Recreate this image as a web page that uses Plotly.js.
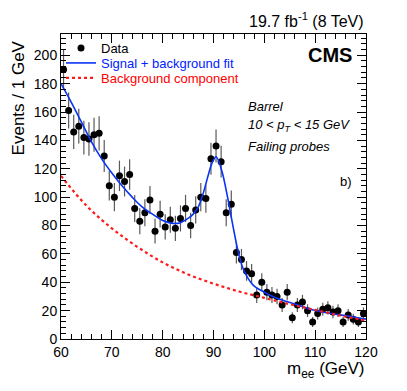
<!DOCTYPE html>
<html>
<head>
<meta charset="utf-8">
<script src="https://cdn.plot.ly/plotly-3.0.1.min.js"></script>
<style>html,body{margin:0;padding:0;background:#fff;}#plot{width:407px;height:391px;}</style>
</head>
<body>
<div id="plot"></div>
<script>
// Bin lower edges (1 GeV bins) and observed counts
const binLow = [60,61,62,63,64,65,66,67,68,69,70,71,72,73,74,75,76,77,78,79,
                80,81,82,83,84,85,86,87,88,89,90,91,92,93,94,95,96,97,98,99,
                100,101,102,103,104,105,106,107,108,109,110,111,112,113,114,115,116,117,118,119];
const counts = [190,161,146,150,142,141,144,145,129,108,
                100,115,111,116,92,83,89,98,76,88,
                79,84,78,85,92,80,91,100,99,127,
                136,125,89,95,61,56,48,46,31,40,
                33,31,30,24,33,15,24,26,20,12,
                18,21,22,19,20,12,17,14,12,18];

// Signal + background fit curve
const fitX = [60,62,64,66,68,70,72,74,76,78,80,82,83.5,85,86,87,88,89,89.7,90.5,91.6,92.6,93.6,94.9,95.9,97.8,100,102,104.4,107,109.6,114.9,120];
const fitY = [180,167,153,139,127,117,108,100,93,88,83.5,81.5,82,85,88,93,103,116,124,128.5,119,103,84,61,49,38,33,29.5,26.4,23.5,20.5,17,14];

// Background component curve
const bkgX = [60,65,70,75,80,85,90,95,100,105,110,115,120];
const bkgY = [115,94,78,65,54,45.5,39,33.5,29,24.5,20.5,16.5,13];

const binCenters = binLow.map(v => v + 0.5);

const data = [
  {
    x: binCenters, y: counts, type: 'scatter', mode: 'markers',
    name: '<span style="color:#000">Data</span>', legend: 'legend',
    marker: {color: '#000', size: 7},
    error_y: {type: 'sqrt', visible: true, color: '#5a5a5a', thickness: 1.2, width: 0},
    cliponaxis: false
  },
  {
    x: fitX, y: fitY, type: 'scatter', mode: 'lines',
    name: '<span style="color:#0022ff">Signal + background fit</span>', legend: 'legend2',
    line: {color: '#0a34f5', width: 1.6, shape: 'spline', smoothing: 1}
  },
  {
    x: bkgX, y: bkgY, type: 'scatter', mode: 'lines',
    name: '<span style="color:#ff0000">Background component</span>', legend: 'legend3',
    line: {color: '#ff1a1a', width: 2.2, dash: 'dot', shape: 'spline', smoothing: 1}
  }
];

const F = '"Liberation Sans", Arial, Helvetica, sans-serif';
const legBase = {x: 0.0, xanchor: 'left', yanchor: 'middle', bgcolor: 'rgba(0,0,0,0)',
                 font: {family: F, size: 13}, itemwidth: 30};

const layout = {
  width: 407, height: 391,
  margin: {l: 61, r: 41, t: 34, b: 52},
  paper_bgcolor: '#fff', plot_bgcolor: '#fff',
  font: {family: F, size: 14, color: '#000'},
  showlegend: true,
  legend: Object.assign({}, legBase, {y: 0.954}),
  legend2: Object.assign({}, legBase, {y: 0.905}),
  legend3: Object.assign({}, legBase, {y: 0.856}),
  xaxis: {
    range: [60, 120], dtick: 10, tick0: 60,
    ticks: 'inside', ticklen: 9, tickwidth: 1, tickcolor: '#000',
    showline: true, linecolor: '#000', linewidth: 1, mirror: 'ticks',
    showgrid: false, zeroline: false,
    tickfont: {family: F, size: 14},
    minor: {dtick: 2, ticks: 'inside', ticklen: 5, tickcolor: '#000', showgrid: false}
  },
  yaxis: {
    range: [0, 215], dtick: 20, tick0: 0,
    ticks: 'inside', ticklen: 9, tickwidth: 1, tickcolor: '#000',
    showline: true, linecolor: '#000', linewidth: 1, mirror: 'ticks',
    showgrid: false, zeroline: false,
    tickfont: {family: F, size: 14},
    minor: {dtick: 4, ticks: 'inside', ticklen: 5, tickcolor: '#000', showgrid: false}
  },
  annotations: [
    {text: '19.7 fb<sup>-1</sup> (8 TeV)', xref: 'paper', yref: 'paper', x: 1, y: 1.046,
     xanchor: 'right', yanchor: 'middle', showarrow: false, font: {family: F, size: 16}},
    {text: '<b>CMS</b>', xref: 'paper', yref: 'paper', x: 0.96, y: 0.931,
     xanchor: 'right', yanchor: 'middle', showarrow: false, font: {family: F, size: 20}},
    {text: '<i>Barrel</i>', xref: 'paper', yref: 'paper', x: 0.607, y: 0.761,
     xanchor: 'left', yanchor: 'middle', showarrow: false, font: {family: F, size: 13}},
    {text: '<i>10 &lt; p<sub>T</sub> &lt; 15 GeV</i>', xref: 'paper', yref: 'paper', x: 0.607, y: 0.70,
     xanchor: 'left', yanchor: 'middle', showarrow: false, font: {family: F, size: 13}},
    {text: '<i>Failing probes</i>', xref: 'paper', yref: 'paper', x: 0.607, y: 0.63,
     xanchor: 'left', yanchor: 'middle', showarrow: false, font: {family: F, size: 13}},
    {text: 'b)', xref: 'paper', yref: 'paper', x: 0.934, y: 0.518,
     xanchor: 'center', yanchor: 'middle', showarrow: false, font: {family: F, size: 13}},
    {text: 'm<sub>ee</sub> (GeV)', xref: 'paper', yref: 'paper', x: 1, y: -0.10,
     xanchor: 'right', yanchor: 'middle', showarrow: false, font: {family: F, size: 17}},
    {text: 'Events / 1 GeV', xref: 'paper', yref: 'paper', x: -0.14, y: 0.985,
     xanchor: 'center', yanchor: 'top', textangle: -90, showarrow: false, font: {family: F, size: 17}}
  ]
};

Plotly.newPlot('plot', data, layout, {displayModeBar: false, staticPlot: true});
</script>
</body>
</html>
